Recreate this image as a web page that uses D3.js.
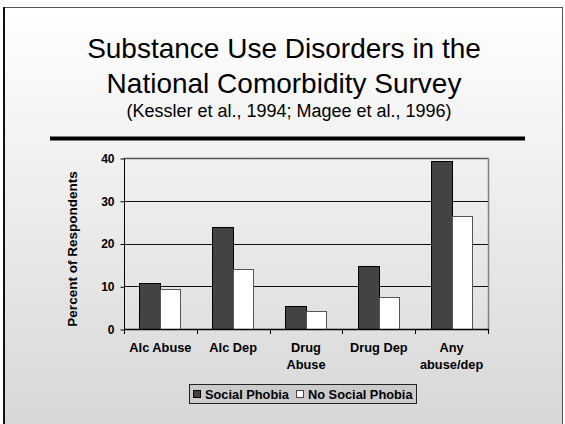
<!DOCTYPE html>
<html>
<head>
<meta charset="utf-8">
<script src="https://cdn.jsdelivr.net/npm/d3@7"></script>
<style>
  html, body { margin: 0; padding: 0; background: #fff; }
  svg { display: block; }
  text { font-family: "Liberation Sans", Arial, sans-serif; }
</style>
</head>
<body>
<svg id="chart" width="565" height="424"></svg>
<script>
// Prevalence of substance use disorders (%), by social phobia status
const categories = [["Alc Abuse"], ["Alc Dep"], ["Drug", "Abuse"], ["Drug Dep"], ["Any", "abuse/dep"]];
const socialPhobia = [10.7, 23.8, 5.3, 14.7, 39.4];
const noSocialPhobia = [9.3, 14.0, 4.3, 7.5, 26.5];
const seriesNames = ["Social Phobia", "No Social Phobia"];
const yTicks = [0, 10, 20, 30, 40];

const svg = d3.select("#chart");
const W = 565, H = 424;
const labelSize = 12.8;

// slide background gradient
const defs = svg.append("defs");
const grad = defs.append("linearGradient").attr("id", "bg").attr("x1", 0).attr("y1", 0).attr("x2", 0).attr("y2", 1);
grad.append("stop").attr("offset", "0%").attr("stop-color", "#ffffff");
grad.append("stop").attr("offset", "100%").attr("stop-color", "#d6d6d6");

svg.append("rect").attr("x", 0).attr("y", 0).attr("width", W).attr("height", H).attr("fill", "#ffffff");
svg.append("rect").attr("x", 4.5).attr("y", 7.5).attr("width", 558).attr("height", 430)
  .attr("fill", "url(#bg)").attr("stroke", "#555").attr("stroke-width", 1);
svg.append("line").attr("x1", 4).attr("x2", 4).attr("y1", 7).attr("y2", H)
  .attr("stroke", "#111").attr("stroke-width", 2);

// titles
svg.append("text").attr("x", 284).attr("y", 58).attr("text-anchor", "middle")
  .attr("font-size", 28).attr("fill", "#000").text("Substance Use Disorders in the");
svg.append("text").attr("x", 284).attr("y", 93).attr("text-anchor", "middle")
  .attr("font-size", 28).attr("fill", "#000").text("National Comorbidity Survey");
svg.append("text").attr("x", 289).attr("y", 117).attr("text-anchor", "middle")
  .attr("font-size", 18).attr("fill", "#000").text("(Kessler et al., 1994; Magee et al., 1996)");
svg.append("line").attr("x1", 50).attr("x2", 525).attr("y1", 138.5).attr("y2", 138.5)
  .attr("stroke", "#000").attr("stroke-width", 4);

// plot area
const plot = { left: 124, right: 488, top: 158, bottom: 329 };
const x = d3.scaleBand().domain(d3.range(categories.length)).range([plot.left, plot.right]).paddingInner(0).paddingOuter(0);
const y = d3.scaleLinear().domain([0, 40]).range([plot.bottom, plot.top]);
const barW = 21;

const g = svg.append("g");

// gridlines
g.selectAll("line.grid").data(yTicks.filter(t => t > 0 && t < 40)).join("line")
  .attr("x1", plot.left).attr("x2", plot.right)
  .attr("y1", d => Math.round(y(d)) + 0.5).attr("y2", d => Math.round(y(d)) + 0.5)
  .attr("stroke", "#111").attr("stroke-width", 1);

// frame top and right
g.append("line").attr("x1", plot.left).attr("x2", plot.right + 0.5)
  .attr("y1", plot.top + 0.5).attr("y2", plot.top + 0.5).attr("stroke", "#555").attr("stroke-width", 1.5);
g.append("line").attr("x1", plot.right + 0.5).attr("x2", plot.right + 0.5)
  .attr("y1", plot.top).attr("y2", plot.bottom + 3).attr("stroke", "#808080").attr("stroke-width", 1.5);

// bars
const cx = i => x(i) + x.bandwidth() / 2;
g.selectAll("rect.sp").data(socialPhobia).join("rect")
  .attr("x", (d, i) => Math.round(cx(i) - barW) + 0.5)
  .attr("y", d => Math.round(y(d)) + 0.5)
  .attr("width", barW)
  .attr("height", d => Math.round(y(0)) - Math.round(y(d)))
  .attr("fill", "#434343").attr("stroke", "#000").attr("stroke-width", 1);
g.selectAll("rect.nsp").data(noSocialPhobia).join("rect")
  .attr("x", (d, i) => Math.round(cx(i)) + 0.5)
  .attr("y", d => Math.round(y(d)) + 0.5)
  .attr("width", barW - 1)
  .attr("height", d => Math.round(y(0)) - Math.round(y(d)))
  .attr("fill", "#ffffff").attr("stroke", "#555").attr("stroke-width", 1);

// y axis
const yAxis = d3.axisLeft(y).tickValues(yTicks).tickSize(4).tickPadding(6);
const ya = svg.append("g").attr("transform", `translate(${plot.left + 0.5},0.5)`).call(yAxis);
ya.select(".domain").attr("stroke", "#000").attr("d", `M0,${plot.top}V${plot.bottom}`);
ya.selectAll(".tick line").attr("stroke", "#000");
ya.selectAll(".tick text").attr("font-size", 12).attr("font-weight", "bold")
  .attr("font-family", "Liberation Sans, Arial, sans-serif").attr("fill", "#000");

// x axis baseline and category ticks
const bounds = d3.range(categories.length + 1).map(i => plot.left + i * x.bandwidth());
svg.append("line").attr("x1", plot.left).attr("x2", plot.right + 1)
  .attr("y1", plot.bottom + 0.5).attr("y2", plot.bottom + 0.5).attr("stroke", "#000").attr("stroke-width", 1.5);
svg.selectAll("line.xt").data(bounds).join("line")
  .attr("x1", d => Math.round(d) + 0.5).attr("x2", d => Math.round(d) + 0.5)
  .attr("y1", plot.bottom).attr("y2", plot.bottom + 5).attr("stroke", "#000");

// category labels
const xl = svg.selectAll("text.xl").data(categories).join("text")
  .attr("text-anchor", "middle").attr("font-size", labelSize).attr("font-weight", "bold").attr("fill", "#000");
xl.each(function (lines, i) {
  d3.select(this).selectAll("tspan").data(lines).join("tspan")
    .attr("x", cx(i)).attr("y", (d, j) => 352 + j * 17).text(d => d);
});

// y axis title
svg.append("text").attr("transform", "translate(77,249) rotate(-90)")
  .attr("text-anchor", "middle").attr("font-size", 13.5).attr("font-weight", "bold").attr("fill", "#000")
  .text("Percent of Respondents");

// legend
const lg = svg.append("g");
lg.append("rect").attr("x", 189.5).attr("y", 384.5).attr("width", 227).attr("height", 19)
  .attr("fill", "#cbcbcb").attr("stroke", "#222").attr("stroke-width", 1);
const legendItems = [
  { name: seriesNames[0], fill: "#434343", stroke: "#000", x: 193 },
  { name: seriesNames[1], fill: "#ffffff", stroke: "#444", x: 296 }
];
legendItems.forEach(it => {
  lg.append("rect").attr("x", it.x + 0.5).attr("y", 390.5).attr("width", 7).attr("height", 7)
    .attr("fill", it.fill).attr("stroke", it.stroke);
  lg.append("text").attr("x", it.x + 12).attr("y", 398.5).attr("font-size", labelSize).attr("font-weight", "bold")
    .attr("fill", "#000").text(it.name);
});
</script>
</body>
</html>
